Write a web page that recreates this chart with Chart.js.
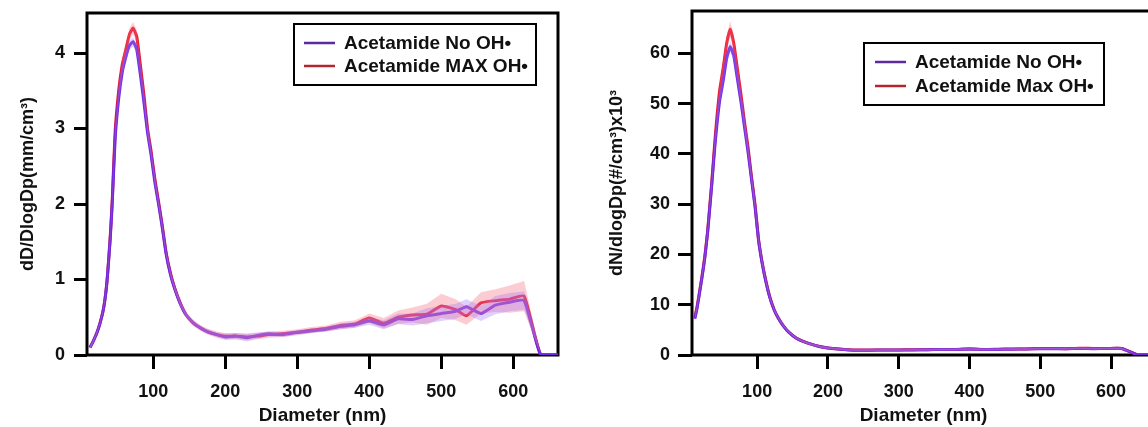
<!DOCTYPE html>
<html>
<head>
<meta charset="utf-8">
<script src="https://cdn.jsdelivr.net/npm/chart.js@4.4.1/dist/chart.umd.min.js"></script>
<style>
  html, body { margin: 0; padding: 0; background: #fff; overflow: hidden; }
  #wrap { position: relative; width: 1148px; height: 427px; overflow: hidden; }
  canvas { position: absolute; top: 0; }
  #volChart { left: 0; }
  #numChart { left: 575px; }
</style>
</head>
<body>
<div id="wrap">
  <canvas id="volChart" width="575" height="427"></canvas>
  <canvas id="numChart" width="600" height="427"></canvas>
</div>
<script>
// Mobility diameter bins (nm)
const diameters = [12, 15, 18, 22, 26, 30, 33, 36, 40, 43,
  47, 52, 57, 62, 67, 72, 77, 82, 87, 92,
  97, 102, 107, 112, 118, 124, 130, 137, 145, 155,
  165, 175, 188, 200, 215, 230, 245, 260, 280, 300,
  320, 340, 360, 380, 400, 420, 440, 460, 480, 500,
  520, 535, 555, 575, 595, 615, 638, 662];

// dD/dlogDp (mm/cm^3)
const volNoOH = [0.10, 0.15, 0.21, 0.30, 0.42, 0.57, 0.74, 1.00, 1.50, 2.00,
  2.85, 3.40, 3.75, 3.95, 4.10, 4.15, 4.05, 3.72, 3.35, 2.95,
  2.65, 2.30, 2.02, 1.72, 1.33, 1.06, 0.87, 0.69, 0.54, 0.43,
  0.36, 0.31, 0.27, 0.24, 0.25, 0.23, 0.26, 0.28, 0.27, 0.30,
  0.32, 0.34, 0.38, 0.40, 0.45, 0.40, 0.48, 0.47, 0.52, 0.55,
  0.58, 0.64, 0.55, 0.66, 0.70, 0.72, 0, 0];
const volMaxOH = [0.10, 0.15, 0.21, 0.30, 0.42, 0.57, 0.74, 1.00, 1.53, 2.04,
  2.95, 3.50, 3.85, 4.05, 4.25, 4.33, 4.22, 3.85, 3.45, 3.00,
  2.70, 2.35, 2.05, 1.75, 1.35, 1.08, 0.88, 0.70, 0.54, 0.43,
  0.36, 0.31, 0.27, 0.25, 0.25, 0.24, 0.25, 0.27, 0.28, 0.30,
  0.33, 0.35, 0.39, 0.41, 0.49, 0.42, 0.50, 0.53, 0.54, 0.65,
  0.60, 0.52, 0.69, 0.72, 0.74, 0.78, 0, 0];
// standard deviation of the volume distributions
const volErrNoOH = [0.02, 0.02, 0.02, 0.02, 0.02, 0.02, 0.02, 0.03, 0.04, 0.05,
  0.06, 0.06, 0.06, 0.06, 0.06, 0.06, 0.06, 0.06, 0.06, 0.06,
  0.05, 0.05, 0.04, 0.04, 0.03, 0.03, 0.03, 0.03, 0.03, 0.03,
  0.03, 0.03, 0.03, 0.04, 0.04, 0.05, 0.04, 0.03, 0.03, 0.03,
  0.03, 0.03, 0.04, 0.04, 0.05, 0.06, 0.07, 0.08, 0.10, 0.10,
  0.10, 0.10, 0.10, 0.12, 0.12, 0.12, 0, 0];
const volErrMaxOH = [0.02, 0.02, 0.02, 0.02, 0.02, 0.02, 0.03, 0.04, 0.05, 0.06,
  0.08, 0.08, 0.08, 0.08, 0.08, 0.08, 0.08, 0.08, 0.08, 0.07,
  0.06, 0.06, 0.05, 0.05, 0.04, 0.04, 0.04, 0.04, 0.04, 0.04,
  0.04, 0.04, 0.04, 0.04, 0.04, 0.04, 0.04, 0.04, 0.04, 0.04,
  0.04, 0.04, 0.05, 0.05, 0.06, 0.07, 0.09, 0.10, 0.14, 0.16,
  0.14, 0.12, 0.14, 0.15, 0.18, 0.20, 0, 0];

// dN/dlogDp (#/cm^3 x10^3)
const numNoOH = [7.2, 9.2, 11.8, 15.3, 19.2, 24.3, 29.0, 34.0, 41.0, 45.5,
  50.5, 54.5, 59.0, 61.3, 59.5, 55.0, 50.5, 45.5, 40.5, 35.0,
  29.5, 22.8, 18.3, 14.8, 11.4, 9.0, 7.3, 5.8, 4.5, 3.4,
  2.7, 2.2, 1.7, 1.4, 1.2, 1.0, 0.95, 0.95, 1.0, 1.0,
  1.0, 1.05, 1.1, 1.1, 1.15, 1.1, 1.1, 1.15, 1.2, 1.25,
  1.25, 1.25, 1.3, 1.25, 1.3, 1.3, 0, 0];
const numMaxOH = [7.5, 9.5, 12.0, 15.5, 19.5, 24.5, 29.5, 34.5, 42.0, 47.0,
  52.5, 57.0, 62.0, 64.8, 62.0, 57.0, 52.0, 46.5, 41.5, 35.5,
  30.0, 23.0, 18.5, 15.0, 11.5, 9.0, 7.3, 5.8, 4.5, 3.4,
  2.7, 2.2, 1.7, 1.4, 1.2, 1.05, 1.0, 1.0, 1.0, 1.0,
  1.05, 1.05, 1.1, 1.1, 1.25, 1.1, 1.15, 1.2, 1.2, 1.3,
  1.3, 1.25, 1.35, 1.3, 1.3, 1.3, 0, 0];
const numErrNoOH = [0.4, 0.4, 0.4, 0.4, 0.5, 0.6, 0.7, 0.8, 0.9, 1.0,
  1.0, 1.0, 1.0, 1.0, 1.0, 1.0, 1.0, 1.0, 0.9, 0.8,
  0.7, 0.6, 0.5, 0.4, 0.3, 0.25, 0.2, 0.2, 0.15, 0.15,
  0.15, 0.15, 0.15, 0.15, 0.15, 0.15, 0.15, 0.15, 0.15, 0.15,
  0.15, 0.15, 0.15, 0.15, 0.15, 0.15, 0.15, 0.15, 0.15, 0.15,
  0.15, 0.15, 0.15, 0.15, 0.15, 0.15, 0, 0];
const numErrMaxOH = [0.5, 0.5, 0.5, 0.5, 0.6, 0.7, 0.9, 1.0, 1.2, 1.3,
  1.4, 1.5, 1.5, 1.6, 1.5, 1.4, 1.3, 1.2, 1.1, 1.0,
  0.9, 0.7, 0.6, 0.5, 0.4, 0.3, 0.25, 0.2, 0.2, 0.2,
  0.2, 0.2, 0.2, 0.2, 0.2, 0.2, 0.2, 0.2, 0.2, 0.2,
  0.2, 0.2, 0.2, 0.2, 0.2, 0.2, 0.2, 0.2, 0.2, 0.2,
  0.2, 0.2, 0.2, 0.2, 0.2, 0.2, 0, 0];

// Tick positions
const xTicks = [100, 200, 300, 400, 500, 600];
const volTicks = [0, 1, 2, 3, 4];
const numTicks = [0, 10, 20, 30, 40, 50, 60];

const labelNoOH = 'Acetamide No OH\u2022';
const volLabelMaxOH = 'Acetamide MAX OH\u2022';
const numLabelMaxOH = 'Acetamide Max OH\u2022';

const PURPLE = 'rgb(112, 40, 222)';
const RED = 'rgb(232, 22, 46)';
const PURPLE_BAND = 'rgba(165, 120, 245, 0.35)';
const RED_BAND = 'rgba(245, 110, 130, 0.35)';
const FONT = '"Liberation Sans", Arial, sans-serif';

function pts(values, offsets, sign) {
  return diameters.map((d, i) => ({ x: d, y: values[i] + sign * (offsets ? offsets[i] : 0) }));
}

// Black frame round the plot area, drawn under the data
const framePlugin = {
  id: 'frame',
  beforeDatasetsDraw(chart) {
    const { ctx, chartArea: a } = chart;
    ctx.save();
    ctx.strokeStyle = '#000';
    ctx.lineWidth = 3;
    ctx.strokeRect(a.left, a.top, a.right - a.left, a.bottom - a.top);
    ctx.restore();
  }
};

// Boxed legend placed inside the plot
const boxLegendPlugin = {
  id: 'boxLegend',
  afterDraw(chart, args, opts) {
    const { ctx } = chart;
    ctx.save();
    ctx.fillStyle = '#fff';
    ctx.fillRect(opts.x, opts.y, opts.w, opts.h);
    ctx.strokeStyle = '#000';
    ctx.lineWidth = 2;
    ctx.strokeRect(opts.x, opts.y, opts.w, opts.h);
    ctx.font = 'bold 19px ' + FONT;
    ctx.textBaseline = 'middle';
    ctx.textAlign = 'left';
    opts.items.forEach((it, i) => {
      const y = opts.firstRow + i * opts.rowGap;
      ctx.strokeStyle = it.color;
      ctx.lineWidth = 2.5;
      ctx.beginPath();
      ctx.moveTo(opts.lineX0, y);
      ctx.lineTo(opts.lineX1, y);
      ctx.stroke();
      ctx.fillStyle = '#111';
      ctx.fillText(it.text, opts.textX, y + 1);
    });
    ctx.restore();
  }
};

function makeDatasets(noVals, noErr, maxVals, maxErr, labNo, labMax) {
  const band = { pointRadius: 0, borderWidth: 0, borderColor: 'rgba(0,0,0,0)' };
  const line = { pointRadius: 0, borderWidth: 3, fill: false, tension: 0.15, borderJoinStyle: 'round' };
  return [
    Object.assign({ data: pts(noVals, noErr, -1), fill: false }, band),
    Object.assign({ data: pts(noVals, noErr, 1), fill: '-1', backgroundColor: PURPLE_BAND }, band),
    Object.assign({ data: pts(maxVals, maxErr, -1), fill: false }, band),
    Object.assign({ data: pts(maxVals, maxErr, 1), fill: '-1', backgroundColor: RED_BAND }, band),
    Object.assign({ label: labNo, data: pts(noVals, null, 0), borderColor: PURPLE }, line),
    Object.assign({ label: labMax, data: pts(maxVals, null, 0), borderColor: RED }, line)
  ];
}

function makeOptions(cfg) {
  const tickFont = { family: FONT, size: 18, weight: 'bold' };
  return {
    responsive: false,
    animation: false,
    devicePixelRatio: 1,
    layout: { padding: { left: 0, right: cfg.padRight, top: cfg.padTop, bottom: 0 } },
    plugins: {
      legend: { display: false },
      tooltip: { enabled: false },
      boxLegend: cfg.legend
    },
    scales: {
      x: {
        type: 'linear',
        min: 8, max: 662,
        border: { display: false },
        grid: { drawOnChartArea: false, drawTicks: true, tickLength: 14, tickWidth: 3, tickColor: '#000' },
        afterBuildTicks(s) { s.ticks = xTicks.map(v => ({ value: v })); },
        afterFit(s) { s.height = 72; s.paddingLeft = 0; s.paddingRight = 0; },
        ticks: { color: '#111', font: tickFont, padding: 12, maxRotation: 0, callback: v => String(v) },
        title: {
          display: true, text: 'Diameter (nm)', color: '#111',
          font: { family: FONT, size: 19, weight: 'bold' }, padding: { top: 0, bottom: 0 }
        }
      },
      y: {
        type: 'linear',
        min: 0, max: cfg.yMax,
        border: { display: false },
        grid: { drawOnChartArea: false, drawTicks: true, tickLength: cfg.yTickLen, tickWidth: 3, tickColor: '#000' },
        afterBuildTicks(s) { s.ticks = cfg.yTicks.map(v => ({ value: v })); },
        afterFit(s) { s.width = cfg.yWidth; s.paddingTop = 0; s.paddingBottom = 0; },
        ticks: { color: '#111', font: tickFont, padding: cfg.yLabelPad, callback: v => String(v) },
        title: {
          display: true, text: cfg.yTitle, color: '#111',
          font: { family: FONT, size: 18, weight: 'bold' }, padding: { top: cfg.yTitlePad, bottom: 0 }
        }
      }
    }
  };
}

new Chart(document.getElementById('volChart'), {
  type: 'line',
  data: { datasets: makeDatasets(volNoOH, volErrNoOH, volMaxOH, volErrMaxOH, labelNoOH, volLabelMaxOH) },
  options: makeOptions({
    padRight: 17, padTop: 13, yMax: 4.53, yTicks: volTicks, yWidth: 87, yTickLen: 13,
    yLabelPad: 9, yTitle: 'dD/DlogDp(mm/cm\u00B3)', yTitlePad: 17,
    legend: {
      x: 294, y: 24, w: 242, h: 61, firstRow: 43, rowGap: 23,
      lineX0: 304, lineX1: 335, textX: 344,
      items: [{ text: labelNoOH, color: '#5a2a9e' }, { text: volLabelMaxOH, color: '#b3262e' }]
    }
  }),
  plugins: [framePlugin, boxLegendPlugin]
});

new Chart(document.getElementById('numChart'), {
  type: 'line',
  data: { datasets: makeDatasets(numNoOH, numErrNoOH, numMaxOH, numErrMaxOH, labelNoOH, numLabelMaxOH) },
  options: makeOptions({
    padRight: 20, padTop: 11, yMax: 68.4, yTicks: numTicks, yWidth: 117, yTickLen: 14,
    yLabelPad: 8, yTitle: 'dN/dlogDp(#/cm\u00B3)x10\u00B3', yTitlePad: 31,
    legend: {
      x: 289, y: 43, w: 240, h: 62, firstRow: 62, rowGap: 24,
      lineX0: 300, lineX1: 331, textX: 340,
      items: [{ text: labelNoOH, color: '#5a2a9e' }, { text: numLabelMaxOH, color: '#b3262e' }]
    }
  }),
  plugins: [framePlugin, boxLegendPlugin]
});
</script>
</body>
</html>
